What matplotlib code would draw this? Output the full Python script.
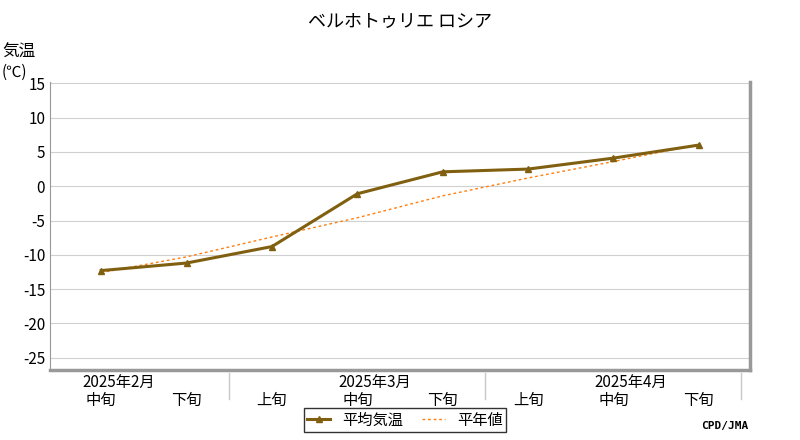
import matplotlib
matplotlib.use("Agg")
import matplotlib.pyplot as plt

plt.rcParams["font.family"] = "Noto Sans CJK JP"

dekads = ["中旬", "下旬", "上旬", "中旬", "下旬", "上旬", "中旬", "下旬"]
months = ["2025年2月", "2025年3月", "2025年4月"]
month_pos = [0, 3, 6]
temp_avg = [-12.3, -11.2, -8.8, -1.1, 2.1, 2.5, 4.1, 6.0]
temp_normal = [-12.6, -10.3, -7.4, -4.6, -1.4, 1.2, 3.6, 6.1]
yticks = [15, 10, 5, 0, -5, -10, -15, -20, -25]

fig = plt.figure(figsize=(8, 4.4), dpi=100)
ax = fig.add_axes([50 / 800, 1 - 370 / 440, 700 / 800, 288 / 440])
x = list(range(len(dekads)))

ax.plot(x, temp_normal, color="#ff7f0e", linestyle=(0, (2, 2)), linewidth=1, label="平年値", zorder=2)
ax.plot(x, temp_avg, color="#806010", linewidth=2.2, marker="^", markersize=5, label="平均気温", zorder=3)

ax.set_xlim(-0.6, 7.6)
ax.set_ylim(-26.8, 15.2)
ax.set_yticks(yticks)
ax.set_yticklabels([str(v) for v in yticks], fontsize=11)
ax.grid(axis="y", color="#d0d0d0", linewidth=0.8)
ax.set_xticks(x)
ax.set_xticklabels(dekads, fontsize=11)
ax.tick_params(axis="x", length=0, pad=16)
ax.tick_params(axis="y", length=0)

for lbl, p in zip(months, month_pos):
    ax.text(p + 0.2, -0.015, lbl, transform=ax.get_xaxis_transform(), ha="center", va="top", fontsize=11)
for p in [1.5, 4.5, 7.5]:
    ax.plot([p, p], [-0.01, -0.1], transform=ax.get_xaxis_transform(), color="#c8c8c8", lw=1, clip_on=False)

ax.spines["top"].set_visible(False)
ax.spines["left"].set_color("#999999")
ax.spines["right"].set_color("#999999")
ax.spines["right"].set_linewidth(2.5)
ax.spines["bottom"].set_color("#999999")
ax.spines["bottom"].set_linewidth(2.5)

fig.text(0.5, 1 - 22 / 440, "ベルホトゥリエ ロシア", ha="center", va="center", fontsize=13)
fig.text(2 / 800, 1 - 52 / 440, "気温", ha="left", va="center", fontsize=12)
fig.text(2 / 800, 1 - 72 / 440, "(℃)", ha="left", va="center", fontsize=11)
fig.text(748 / 800, 1 - 426 / 440, "CPD/JMA", ha="right", va="center", fontsize=8, family="DejaVu Sans Mono", weight="bold")

handles, labels = ax.get_legend_handles_labels()
fig.legend(handles[::-1], labels[::-1], loc="center", bbox_to_anchor=(405 / 800, 1 - 420 / 440), ncol=2,
           fontsize=11, frameon=True, fancybox=False, edgecolor="black", handlelength=1.5,
           borderpad=0.2, columnspacing=1.2)

fig.savefig("out.png", dpi=100)
